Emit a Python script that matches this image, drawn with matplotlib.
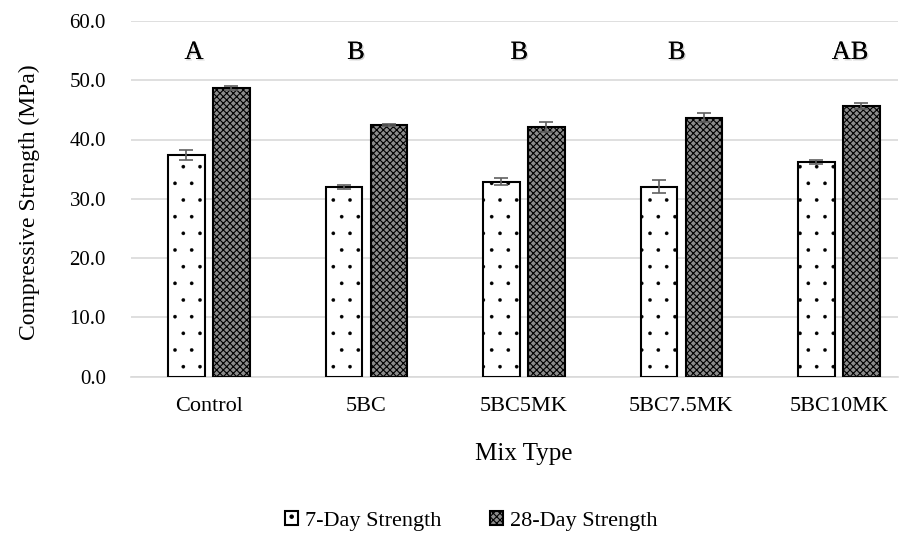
import matplotlib
matplotlib.use("Agg")
import matplotlib.pyplot as plt
import matplotlib.patheffects as pe
import numpy as np

plt.rcParams['font.family'] = ['Liberation Serif', 'DejaVu Serif']

categories = ["Control", "5BC", "5BC5MK", "5BC7.5MK", "5BC10MK"]
day7 = [37.4, 32.0, 32.9, 32.0, 36.2]
day7_err = [0.8, 0.3, 0.6, 1.1, 0.3]
day28 = [48.7, 42.5, 42.1, 43.7, 45.6]
day28_err = [0.3, 0.2, 0.8, 0.8, 0.5]
letters = ["A", "B", "B", "B", "AB"]
letter_offsets = [-0.095, -0.067, -0.03, -0.03, 0.07]

fig = plt.figure(figsize=(9.08, 5.39), dpi=100)
# axes: left 131px, right 898px, top 21px, bottom 376.5px
ax = fig.add_axes([131 / 908, 1 - 376.5 / 539, 767 / 908, 355.5 / 539])

x = np.arange(len(categories))
w = 0.232
off = 0.143
plt.rcParams['hatch.linewidth'] = 0.2
b7 = ax.bar(x - off, day7, w, facecolor="white", edgecolor="black", linewidth=1.5,
            hatch=".", label="7-Day Strength", zorder=3)
plt.rcParams['hatch.linewidth'] = 0.8
b28 = ax.bar(x + off, day28, w, facecolor="#8c8c8c", edgecolor="black", linewidth=1.5,
             hatch="xxxxx", label="28-Day Strength", zorder=3)
for p in b7:
    try:
        p.set_hatch_linewidth(0.2)
    except AttributeError:
        pass
ax.errorbar(x - off, day7, yerr=day7_err, fmt="none", ecolor="#606060",
            elinewidth=1.2, capsize=5, capthick=1.2, zorder=4)
ax.errorbar(x + off, day28, yerr=day28_err, fmt="none", ecolor="#606060",
            elinewidth=1.2, capsize=5, capthick=1.2, zorder=4)

for xi, lab, lo in zip(x, letters, letter_offsets):
    ax.text(xi + lo, 54.6, lab, ha="center", va="center", fontsize=19,
            path_effects=[pe.withSimplePatchShadow(offset=(1, -1), shadow_rgbFace="#b0b0b0", alpha=0.6), pe.Normal()])

ax.set_xlim(-0.495, 4.375)
ax.set_ylim(0, 60)
ax.set_yticks(np.arange(0, 61, 10))
ax.set_yticklabels([f"{v:.1f}" for v in np.arange(0, 61, 10)], fontsize=15)
ax.set_xticks(x)
ax.set_xticklabels(categories, fontsize=16)
ax.tick_params(axis="y", length=0, pad=18)
ax.tick_params(axis="x", length=0, pad=15)
ax.grid(axis="y", color="#d9d9d9", linewidth=1.2, zorder=0)
for s in ["top", "right", "left"]:
    ax.spines[s].set_visible(False)
ax.spines["bottom"].set_color("#d9d9d9")
ax.spines["bottom"].set_linewidth(1.2)

ax.set_ylabel("Compressive Strength (MPa)", fontsize=17)
ax.yaxis.set_label_coords(-0.119, 0.49)
ax.set_xlabel("Mix Type", fontsize=18)
ax.xaxis.set_label_coords(0.512, -0.187)

leg = fig.legend(loc="center", bbox_to_anchor=(471 / 908, 1 - 521 / 539), ncol=2, frameon=False,
                 fontsize=16, handlelength=0.6, handleheight=0.6, handletextpad=0.3,
                 columnspacing=2.2)

fig.savefig("out.png", dpi=100)
